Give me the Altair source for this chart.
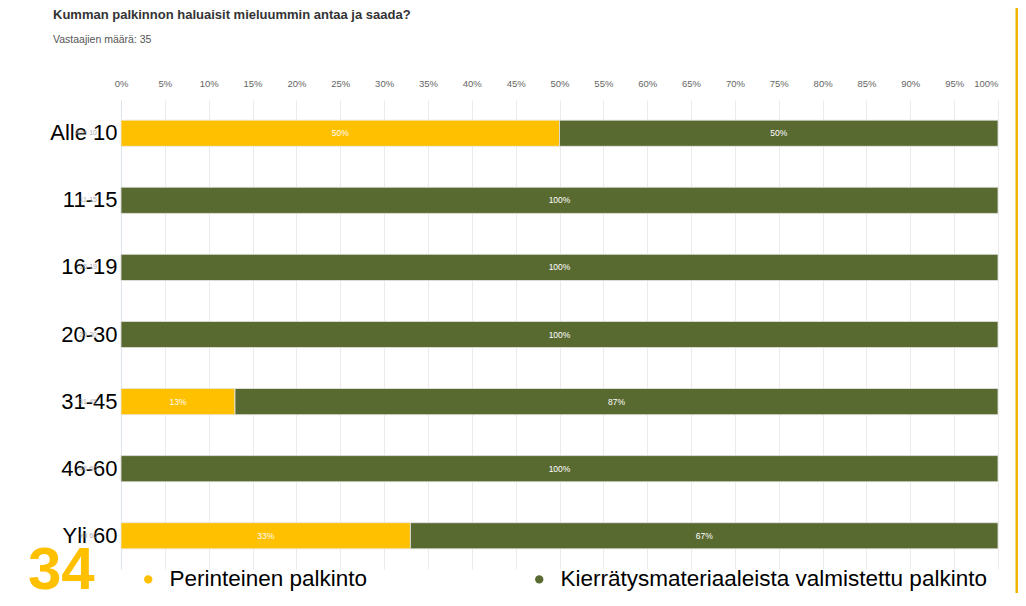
import altair as alt
import pandas as pd

groups = ["Alle 10", "11-15", "16-19", "20-30", "31-45", "46-60", "Yli 60"]
perinteinen = [50, 0, 0, 0, 13, 0, 33]
kierratys = [50, 100, 100, 100, 87, 100, 67]
series = ["Perinteinen palkinto", "Kierrätysmateriaaleista valmistettu palkinto"]
colors = ["#FFC000", "#596A31"]
x_ticks = list(range(0, 101, 5))
title_text = "Kumman palkinnon haluaisit mieluummin antaa ja saada?"
subtitle_text = "Vastaajien määrä: 35"
slide_number = "34"

rows = []
for g, a, b in zip(groups, perinteinen, kierratys):
    rows.append({"group": g, "series": series[0], "order": 0, "value": a})
    rows.append({"group": g, "series": series[1], "order": 1, "value": b})
df = pd.DataFrame(rows)

base = alt.Chart(df).transform_stack(
    stack="value", groupby=["group"], as_=["v0", "v1"], sort=[alt.SortField("order")]
).transform_calculate(
    mid="(datum.v0 + datum.v1) / 2", label="datum.value + '%'"
)

y_scale = alt.Scale(paddingInner=0.61, paddingOuter=0.3)
y_enc = alt.Y("group:N", sort=groups, title=None, scale=y_scale,
              axis=alt.Axis(labelFontSize=22, labelColor="#000000", labelFont="Liberation Sans",
                            labelPadding=4, ticks=False, domainColor="#dde3ee", grid=False))

bars = base.mark_bar(stroke="#e6e6e6", strokeWidth=0.8).encode(
    x=alt.X("v0:Q", scale=alt.Scale(domain=[0, 100]), title=None,
            axis=alt.Axis(orient="top", values=x_ticks, labelExpr="datum.value + '%'",
                          labelFontSize=9.5, labelColor="#666666", labelPadding=12,
                          labelFlush=False,
                          labelAlign={"condition": {"test": "datum.value == 100", "value": "right"},
                                      "value": "center"},
                          ticks=False, domain=False, grid=True, gridColor="#ebebeb",
                          labelFont="Liberation Sans")),
    x2="v1:Q",
    y=y_enc,
    color=alt.Color("series:N", scale=alt.Scale(domain=series, range=colors),
                    legend=alt.Legend(orient="none", legendX=16, legendY=468, direction="horizontal",
                                      title=None, symbolType="circle", symbolSize=70,
                                      labelFontSize=22.5, labelColor="#000000", labelFont="Liberation Sans",
                                      columnPadding=160, labelOffset=10, labelLimit=600,
                                      symbolStrokeWidth=0)),
)

labels = base.transform_filter("datum.value > 0").mark_text(
    color="#ffffff", fontSize=8.5, font="Liberation Sans"
).encode(
    x=alt.X("mid:Q"),
    y=alt.Y("group:N", sort=groups),
    text="label:N",
)

ghost = alt.Chart(pd.DataFrame({"group": groups})).mark_text(
    color="#9a9a9a", fontSize=7, font="Liberation Sans", align="right", opacity=0.8
).encode(
    x=alt.value(-24),
    y=alt.Y("group:N", sort=groups),
    text="group:N",
)

big_num = alt.Chart(pd.DataFrame({"t": [slide_number]})).mark_text(
    color="#FFC000", fontSize=60, fontWeight="bold", font="Liberation Sans",
    align="left", baseline="alphabetic"
).encode(x=alt.value(-93), y=alt.value(489), text="t:N")

title_mark = alt.Chart(pd.DataFrame({"t": [title_text]})).mark_text(
    color="#333333", fontSize=13, fontWeight="bold", font="Liberation Sans",
    align="left", baseline="alphabetic"
).encode(x=alt.value(-68), y=alt.value(-81), text="t:N")

subtitle_mark = alt.Chart(pd.DataFrame({"t": [subtitle_text]})).mark_text(
    color="#555555", fontSize=10.5, font="Liberation Sans",
    align="left", baseline="alphabetic"
).encode(x=alt.value(-68), y=alt.value(-57), text="t:N")

edge = alt.Chart(pd.DataFrame({"a": [1]})).mark_rule(color="#F0B400", strokeWidth=3).encode(
    x=alt.value(896), y=alt.value(-100), y2=alt.value(500)
)

chart = alt.layer(bars, labels, ghost, big_num, title_mark, subtitle_mark, edge).properties(
    width=877, height=469,
    padding={"left": 113, "top": 92, "right": 20, "bottom": 24},
    autosize=alt.AutoSizeParams(type="none"),
).configure_view(stroke=None)

chart.save("out.html", embed_options={"renderer": "svg", "actions": False})
